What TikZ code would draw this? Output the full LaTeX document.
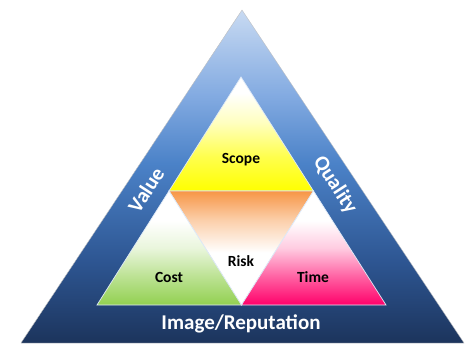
\documentclass[tikz,border=0pt]{standalone}
\usepackage{fontspec}
\setmainfont{Carlito}
\usetikzlibrary{calc}

\definecolor{skyTop}{RGB}{200,218,242}
\definecolor{skyHigh}{RGB}{130,170,225}
\definecolor{skyMid}{RGB}{75,130,200}
\definecolor{skyDeep}{RGB}{45,85,145}
\definecolor{skyLow}{RGB}{28,52,92}
\definecolor{scopeYellow}{RGB}{255,255,0}
\definecolor{riskOrange}{RGB}{247,150,70}
\definecolor{costGreen}{RGB}{146,208,80}
\definecolor{timePink}{RGB}{255,0,106}

\pgfdeclareverticalshading{skyfade}{100bp}{color(0bp)=(skyLow); color(25bp)=(skyLow);
    color(37bp)=(skyDeep); color(52bp)=(skyMid); color(62bp)=(skyHigh); color(75bp)=(skyTop); color(100bp)=(skyTop)}
\pgfdeclareverticalshading{scopefade}{100bp}{color(0bp)=(scopeYellow); color(25bp)=(scopeYellow);
    color(40bp)=(scopeYellow!70); color(55bp)=(scopeYellow!25); color(68bp)=(white); color(100bp)=(white)}
\pgfdeclareverticalshading{riskfade}{100bp}{color(0bp)=(white); color(25bp)=(white);
    color(48bp)=(white); color(62bp)=(riskOrange!45); color(75bp)=(riskOrange); color(100bp)=(riskOrange)}
\pgfdeclareverticalshading{costfade}{100bp}{color(0bp)=(costGreen); color(25bp)=(costGreen);
    color(38bp)=(costGreen!60); color(50bp)=(costGreen!20); color(62bp)=(white); color(100bp)=(white)}
\pgfdeclareverticalshading{timefade}{100bp}{color(0bp)=(timePink); color(25bp)=(timePink);
    color(38bp)=(timePink!60); color(50bp)=(timePink!20); color(62bp)=(white); color(100bp)=(white)}

\begin{document}
\begin{tikzpicture}[x=1pt,y=1pt,
        part/.style={draw=skyTop!60!white, line width=0.7pt},
        word/.style={font=\fontsize{15.5}{18}\selectfont\bfseries, text=black},
        side/.style={font=\fontsize{21}{24}\selectfont\bfseries, text=white}]
            \useasboundingbox (0,0) rectangle (468,343);

            \coordinate (top) at (242,333);
            \coordinate (bl) at (21,0);
            \coordinate (br) at (464,0);

            \coordinate (in) at (241,266);
            \coordinate (inL) at (97,38);
            \coordinate (inR) at (386,38);
            \coordinate (midL) at ($(in)!0.5!(inL)$);
            \coordinate (midR) at ($(in)!0.5!(inR)$);
            \coordinate (midB) at ($(inL)!0.5!(inR)$);

            \shadedraw[draw=gray!50, shading=skyfade] (top) -- (bl) -- (br) -- cycle;

            \shadedraw[part, shading=scopefade] (in) -- (midL) -- (midR) -- cycle;
            \shadedraw[part, shading=riskfade] (midL) -- (midR) -- (midB) -- cycle;
            \shadedraw[part, shading=costfade] (midL) -- (inL) -- (midB) -- cycle;
            \shadedraw[part, shading=timefade] (midR) -- (midB) -- (inR) -- cycle;

            \node[word] (scope) at (241,183) {Scope};
            \node[word] (risk) at (241,82) {Risk};
            \node[word] (cost) at (169,66) {Cost};
            \node[word] (time) at (313,66) {Time};

            \node[side] (image) at (241,19) {Image/Reputation};
            \node[side, rotate=57] (value) at (146,153) {Value};
            \node[side, rotate=-57] (quality) at (335,158) {Quality};
        \end{tikzpicture}
\end{document}
